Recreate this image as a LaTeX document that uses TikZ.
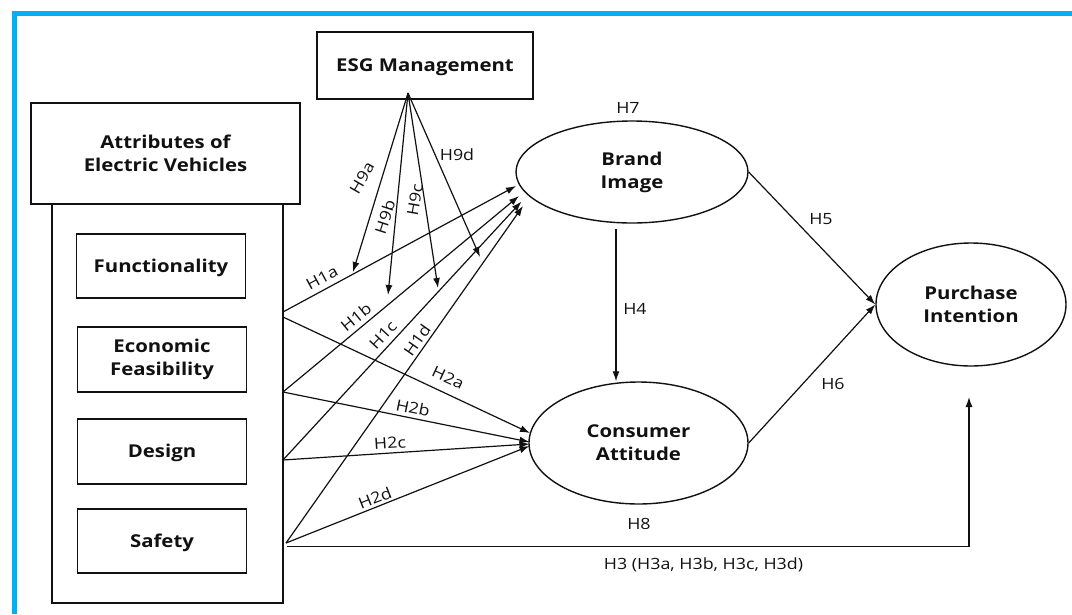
\documentclass[tikz,border=0pt]{standalone}
\usepackage{fontspec}
\setmainfont{Open Sans}[FakeStretch=1.15]
\usetikzlibrary{arrows.meta,shapes.geometric}
\definecolor{frameblue}{HTML}{00B0F0}
\definecolor{ink}{HTML}{111111}
\begin{document}
\begin{tikzpicture}[x=1pt,y=-1pt,
  box/.style={draw=ink, line width=1.6pt, inner sep=0pt, align=center, text=ink,
    font=\bfseries\fontsize{17.7}{23}\selectfont},
  oneline/.style={text height=12.7pt, text depth=0pt},
  ell/.style={draw=ink, ellipse, line width=1.4pt, inner sep=0pt, align=center, text=ink,
    font=\bfseries\fontsize{17.7}{23}\selectfont},
  arr/.style={draw=ink, line width=1.2pt, -{Latex[length=10pt,width=7pt]}},
  lab/.style={font=\fontsize{15.5}{18}\selectfont, inner sep=0pt, text=ink}]
\useasboundingbox (0,0) rectangle (1072,614);
% frame
\draw[frameblue, line width=5pt] (14,614) -- (14,13.5) -- (1072,13.5);

% boxes
\node[box, oneline, minimum width=216, minimum height=67] (esg) at (425,65.5) {ESG Management};
\node[box, minimum width=231, minimum height=399] (grp) at (167.5,403.5) {};
\node[box, minimum width=269, minimum height=101, fill=white] (attr) at (165.5,153.5) {Attributes of\\Electric Vehicles};
\node[box, oneline, minimum width=169, minimum height=64] (fun) at (161,266) {Functionality};
\node[box, minimum width=169, minimum height=65] (eco) at (162,359.5) {Economic\\Feasibility};
\node[box, oneline, minimum width=169, minimum height=65] (des) at (162,451.5) {Design};
\node[box, oneline, minimum width=169, minimum height=64] (saf) at (162,541) {Safety};

% ellipses
\node[ell, minimum width=232, minimum height=102] (bi) at (632,172) {Brand\\Image};
\node[ell, minimum width=219, minimum height=122] (ca) at (638.5,443) {Consumer\\Attitude};
\node[ell, minimum width=190, minimum height=123] (pi) at (971,304.5) {Purchase\\Intention};

% coordinates
\coordinate (f1) at (283,312);
\coordinate (f2) at (283,317);
\coordinate (e1) at (283,392);
\coordinate (d1) at (283,460);
\coordinate (s1) at (286,543);
\coordinate (s3) at (287,546.5);
\coordinate (h3c) at (969,546.5);
\coordinate (h3t) at (969,397);
\coordinate (g) at (408,93);
\coordinate (t1a) at (516,186);
\coordinate (t1b) at (519,196);
\coordinate (t1c) at (521.5,201.5);
\coordinate (t1d) at (523,206);
\coordinate (t2a) at (530,433);
\coordinate (t2b) at (529.5,442);
\coordinate (t2c) at (529.5,444);
\coordinate (t2d) at (529.5,446);
\coordinate (t9a) at (353,272);
\coordinate (t9b) at (388,295);
\coordinate (t9c) at (438,288);
\coordinate (t9d) at (480,257);
\coordinate (h4s) at (616,229);

% H9
\draw[arr] (g) -- (t9a);
\draw[arr] (g) -- (t9b);
\draw[arr] (g) -- (t9c);
\draw[arr] (g) -- (t9d);
% H1
\draw[arr] (f1) -- (t1a);
\draw[arr] (e1) -- (t1b);
\draw[arr] (d1) -- (t1c);
\draw[arr] (s1) -- (t1d);
% H2
\draw[arr] (f2) -- (t2a);
\draw[arr] (e1) -- (t2b);
\draw[arr] (d1) -- (t2c);
\draw[arr] (s1) -- (t2d);
% H3
\draw[arr] (s3) -- (h3c) -- (h3t);
% H4 H5 H6
\draw[arr] (h4s) -- (h4s |- ca.north);
\draw[arr] (bi.east) -- (pi.west);
\draw[arr] (ca.east) -- (pi.west);

% labels
\node[lab, rotate=60] at (362,178) {H9a};
\node[lab, rotate=72] at (385,217) {H9b};
\node[lab, rotate=80] at (415,200) {H9c};
\node[lab] at (457,155) {H9d};
\node[lab, rotate=28.5] at (322,278) {H1a};
\node[lab, rotate=39.4] at (356,317) {H1b};
\node[lab, rotate=47] at (383,335) {H1c};
\node[lab, rotate=55] at (417,340) {H1d};
\node[lab, rotate=-25] at (448,378) {H2a};
\node[lab, rotate=-11.5] at (413,408) {H2b};
\node[lab, rotate=3.7] at (390,443) {H2c};
\node[lab, rotate=21.6] at (375,498) {H2d};
\node[lab] at (628,108) {H7};
\node[lab] at (635,309) {H4};
\node[lab] at (821,219) {H5};
\node[lab] at (833,384) {H6};
\node[lab] at (639,524) {H8};
\node[lab] at (703.5,565) {H3 (H3a, H3b, H3c, H3d)};
\end{tikzpicture}
\end{document}
